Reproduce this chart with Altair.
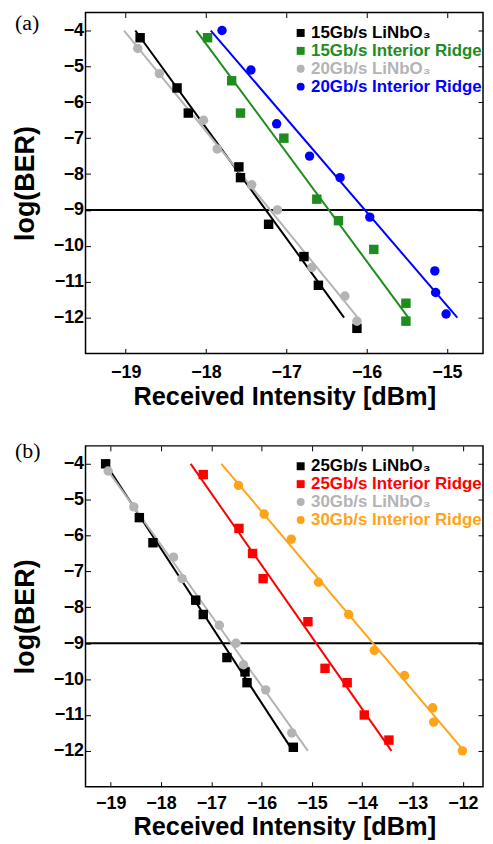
import altair as alt
import pandas as pd

FONT = "Liberation Sans"

# ---------------- Panel (a) ----------------
a_series = ["15Gb/s LiNbO₃", "15Gb/s Interior Ridge", "20Gb/s LiNbO₃", "20Gb/s Interior Ridge"]
a_colors = ["#000000", "#1E8C1E", "#B4B4B4", "#0000FF"]
a_shapes = ["square", "square", "circle", "circle"]

a15_lin_x = [-18.82, -18.36, -18.22, -17.59, -17.57, -17.22, -16.78, -16.60, -16.12]
a15_lin_y = [-4.2, -5.6, -6.3, -7.8, -8.1, -9.4, -10.3, -11.1, -12.3]
a15_ir_x = [-17.98, -17.68, -17.57, -17.03, -16.62, -16.35, -15.91, -15.51, -15.51]
a15_ir_y = [-4.2, -5.4, -6.3, -7.0, -8.7, -9.3, -10.1, -11.6, -12.1]
a20_lin_x = [-18.85, -18.58, -18.03, -17.86, -17.43, -17.11, -16.68, -16.27, -16.12]
a20_lin_y = [-4.5, -5.2, -6.5, -7.3, -8.3, -9.0, -10.6, -11.4, -12.1]
a20_ir_x = [-17.80, -17.44, -17.12, -16.71, -16.33, -15.96, -15.15, -15.14, -15.01]
a20_ir_y = [-4.0, -5.1, -6.6, -7.5, -8.1, -9.2, -10.7, -11.3, -11.9]

# fitted lines: start (at logBER -4) and end (at logBER -12) intensities
a_fit_start = [-18.88, -18.12, -19.02, -17.94]
a_fit_end = [-16.28, -15.48, -16.11, -14.87]
a_xdomain = [-19.5, -14.55]
a_xticks = [-19, -18, -17, -16, -15]

# ---------------- Panel (b) ----------------
b_series = ["25Gb/s LiNbO₃", "25Gb/s Interior Ridge", "30Gb/s LiNbO₃", "30Gb/s Interior Ridge"]
b_colors = ["#000000", "#FF0000", "#B4B4B4", "#FFA319"]
b_shapes = ["square", "square", "circle", "circle"]

b25_lin_x = [-19.10, -18.43, -18.16, -17.31, -17.16, -16.69, -16.33, -16.29, -15.37]
b25_lin_y = [-4.0, -5.5, -6.2, -7.8, -8.2, -9.4, -9.8, -10.1, -11.9]
b25_ir_x = [-17.16, -16.45, -16.18, -15.97, -15.08, -14.74, -14.30, -13.96, -13.47]
b25_ir_y = [-4.3, -5.8, -6.5, -7.2, -8.4, -9.7, -10.1, -11.0, -11.7]
b30_lin_x = [-19.05, -18.54, -17.75, -17.58, -16.84, -16.51, -16.36, -15.92, -15.40]
b30_lin_y = [-4.2, -5.2, -6.6, -7.2, -8.5, -9.0, -9.6, -10.3, -11.5]
b30_ir_x = [-16.46, -15.95, -15.41, -14.87, -14.27, -13.76, -13.16, -12.60, -12.58, -12.01]
b30_ir_y = [-4.6, -5.4, -6.1, -7.3, -8.2, -9.2, -9.9, -10.8, -11.2, -12.0]

b_fit_start = [-19.10, -17.41, -19.15, -16.80]
b_fit_end = [-15.38, -13.42, -15.08, -11.98]
b_xdomain = [-19.5, -11.6]
b_xticks = [-19, -18, -17, -16, -15, -14, -13, -12]

# shared
fit_levels = [-4, -12]
threshold = [-9]
y_domain = [-13, -3.5]
y_ticks = [-12, -11, -10, -9, -8, -7, -6, -5, -4]
x_title = "Received Intensity [dBm]"
y_title = "log(BER)"

INSIDE = {"expr": "-5"}  # inward ticks


def panel(series, colors, shapes, xs_list, ys_list, fit_start, fit_end, xdom, xticks,
          tag, width, height, xlab_pad, xtitle_pad, tag_x, tag_y, leg_x, leg_y):
    pts = pd.DataFrame(
        [{"series": s, "x": x, "y": y}
         for s, xs, ys in zip(series, xs_list, ys_list) for x, y in zip(xs, ys)]
    )
    fits = pd.DataFrame(
        [{"series": s, "col": c, "x": x, "y": y}
         for s, c, x0, x1 in zip(series, colors, fit_start, fit_end)
         for x, y in zip([x0, x1], fit_levels)]
    )
    thr = pd.DataFrame({"y": threshold})
    tagdf = pd.DataFrame({"t": [tag]})

    xscale = alt.Scale(domain=xdom, nice=False, zero=False)
    yscale = alt.Scale(domain=y_domain, nice=False, zero=False)
    cscale = alt.Scale(domain=series, range=colors)
    sscale = alt.Scale(domain=series, range=shapes)

    color_expr = " : ".join(
        f"datum.value == '{s}' ? '{c}'" for s, c in zip(series, colors)
    ) + " : 'black'"

    lines = alt.Chart(fits).mark_line(strokeWidth=2).encode(
        x=alt.X("x:Q", scale=xscale,
                axis=alt.Axis(orient="bottom", values=xticks, format="d", title=x_title,
                              tickSize=INSIDE, labelPadding=xlab_pad + 5,
                              titlePadding=xtitle_pad, titleFontSize=25.5)),
        y=alt.Y("y:Q", scale=yscale,
                axis=alt.Axis(orient="left", values=y_ticks, format="d", title=y_title,
                              tickSize=INSIDE, labelPadding=7,
                              titlePadding=14, titleFontSize=27)),
        stroke=alt.Stroke("col:N", scale=None),
        detail="series:N",
    )

    points = alt.Chart(pts).mark_point(filled=True, size=90, opacity=1).encode(
        x=alt.X("x:Q", scale=xscale, axis=None),
        y=alt.Y("y:Q", scale=yscale, axis=None),
        color=alt.Color("series:N", scale=cscale,
                        legend=alt.Legend(
                            title=None, orient="none", legendX=leg_x, legendY=leg_y,
                            labelFont=FONT, labelFontSize=17, labelFontWeight="bold",
                            labelColor={"expr": color_expr}, labelLimit=400,
                            symbolSize=64, symbolStrokeWidth=0, rowPadding=0,
                            labelOffset=2, padding=0)),
        shape=alt.Shape("series:N", scale=sscale),
    )

    rule = alt.Chart(thr).mark_rule(color="black", strokeWidth=2).encode(
        y=alt.Y("y:Q", scale=yscale, axis=None)
    )

    frame = alt.Chart(fits).mark_line(opacity=0).encode(
        x=alt.X("x:Q", scale=xscale,
                axis=alt.Axis(orient="top", values=xticks, labels=False, title=None,
                              tickSize=INSIDE, minExtent=0)),
        y=alt.Y("y:Q", scale=yscale,
                axis=alt.Axis(orient="right", values=y_ticks, labels=False, title=None,
                              tickSize=INSIDE, minExtent=0)),
        detail="series:N",
    )

    tagm = alt.Chart(tagdf).mark_text(
        font="Liberation Serif", fontSize=22, align="left", baseline="top", color="black"
    ).encode(text="t:N", x=alt.value(tag_x), y=alt.value(tag_y))

    return alt.layer(rule, lines, points, frame, tagm).resolve_axis(
        x="independent", y="independent"
    ).properties(width=width, height=height)


PW = 400

pa = panel(a_series, a_colors, a_shapes,
           [a15_lin_x, a15_ir_x, a20_lin_x, a20_ir_x],
           [a15_lin_y, a15_ir_y, a20_lin_y, a20_ir_y],
           a_fit_start, a_fit_end, a_xdomain, a_xticks, "(a)",
           PW, 343, 10, 3, -71, 0.5, 208, 12)

pb = panel(b_series, b_colors, b_shapes,
           [b25_lin_x, b25_ir_x, b30_lin_x, b30_ir_x],
           [b25_lin_y, b25_ir_y, b30_lin_y, b30_ir_y],
           b_fit_start, b_fit_end, b_xdomain, b_xticks, "(b)",
           PW, 343, 8, 2, -71, -5, 208, 12)

chart = alt.vconcat(pa, pb, spacing=28).resolve_scale(
    color="independent", shape="independent"
).resolve_legend(
    color="independent", shape="independent"
).properties(
    padding={"left": 2, "top": 0, "right": 0, "bottom": 0}
).configure_view(
    stroke="black", strokeWidth=1.5
).configure_axis(
    grid=False, domain=False, ticks=True, tickColor="black", tickWidth=1,
    labelFont=FONT, labelFontSize=18, labelFontWeight="bold", labelColor="black",
    titleFont=FONT, titleFontWeight="bold", titleColor="black"
)

chart.save("out.html", embed_options={"renderer": "svg", "actions": False})
